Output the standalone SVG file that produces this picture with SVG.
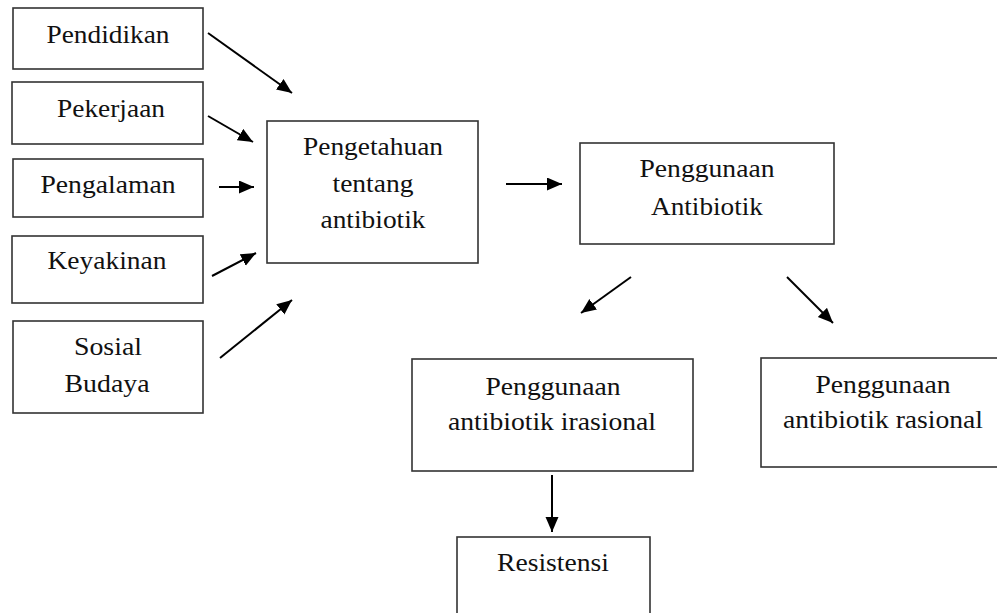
<svg xmlns="http://www.w3.org/2000/svg" width="997" height="613" viewBox="0 0 997 613">
<style>
.box{fill:#fff;stroke:#333;stroke-width:1.6}
text{font-family:'Liberation Serif','Times New Roman',serif;font-size:25px;fill:#111;text-anchor:middle}
.c{stroke:#000;stroke-width:2;fill:none;marker-end:url(#ah)}
</style>
<defs>
<marker id="ah" markerUnits="userSpaceOnUse" markerWidth="16" markerHeight="14" refX="15" refY="6.5" orient="auto">
<path d="M0,0 L15,6.5 L0,13 Z" fill="#000"/>
</marker>
</defs>
<rect width="997" height="613" fill="#fff"/>
<g id="pendidikan"><rect class="box" x="13" y="8" width="190" height="61"/><text x="108" y="43" textLength="123" lengthAdjust="spacingAndGlyphs">Pendidikan</text></g>
<g id="pekerjaan"><rect class="box" x="12" y="82" width="191" height="62"/><text x="111" y="117" textLength="108" lengthAdjust="spacingAndGlyphs">Pekerjaan</text></g>
<g id="pengalaman"><rect class="box" x="13" y="159" width="190" height="58"/><text x="108" y="193" textLength="135" lengthAdjust="spacingAndGlyphs">Pengalaman</text></g>
<g id="keyakinan"><rect class="box" x="12" y="236" width="191" height="67"/><text x="107" y="269" textLength="119" lengthAdjust="spacingAndGlyphs">Keyakinan</text></g>
<g id="sosial-budaya"><rect class="box" x="13" y="321" width="190" height="92"/><text x="108" y="355" textLength="68" lengthAdjust="spacingAndGlyphs">Sosial</text><text x="107" y="392" textLength="85" lengthAdjust="spacingAndGlyphs">Budaya</text></g>
<g id="pengetahuan"><rect class="box" x="267" y="121" width="211" height="142"/><text x="373" y="155" textLength="140" lengthAdjust="spacingAndGlyphs">Pengetahuan</text><text x="373" y="192" textLength="81" lengthAdjust="spacingAndGlyphs">tentang</text><text x="373" y="228" textLength="105" lengthAdjust="spacingAndGlyphs">antibiotik</text></g>
<g id="penggunaan-antibiotik"><rect class="box" x="580" y="143" width="254" height="101"/><text x="707" y="177" textLength="135" lengthAdjust="spacingAndGlyphs">Penggunaan</text><text x="707" y="215" textLength="112" lengthAdjust="spacingAndGlyphs">Antibiotik</text></g>
<g id="irasional"><rect class="box" x="412" y="359" width="281" height="112"/><text x="553" y="395" textLength="135" lengthAdjust="spacingAndGlyphs">Penggunaan</text><text x="552" y="430" textLength="208" lengthAdjust="spacingAndGlyphs">antibiotik irasional</text></g>
<g id="rasional"><rect class="box" x="761" y="358" width="240" height="109"/><text x="883" y="393" textLength="135" lengthAdjust="spacingAndGlyphs">Penggunaan</text><text x="883" y="428" textLength="200" lengthAdjust="spacingAndGlyphs">antibiotik rasional</text></g>
<g id="resistensi"><rect class="box" x="457" y="537" width="193" height="90"/><text x="553" y="571" textLength="112" lengthAdjust="spacingAndGlyphs">Resistensi</text></g>
<g id="connectors">
<line class="c" x1="208" y1="33" x2="292" y2="93"/>
<line class="c" x1="208" y1="116" x2="253" y2="142"/>
<line class="c" x1="219" y1="187" x2="254" y2="187"/>
<line class="c" x1="212" y1="276" x2="256" y2="253"/>
<line class="c" x1="220" y1="358" x2="292" y2="300"/>
<line class="c" x1="506" y1="184" x2="562" y2="184"/>
<line class="c" x1="631" y1="277" x2="581" y2="313"/>
<line class="c" x1="787" y1="277" x2="833" y2="323"/>
<line class="c" x1="552" y1="475" x2="552" y2="532"/>
</g>
</svg>
